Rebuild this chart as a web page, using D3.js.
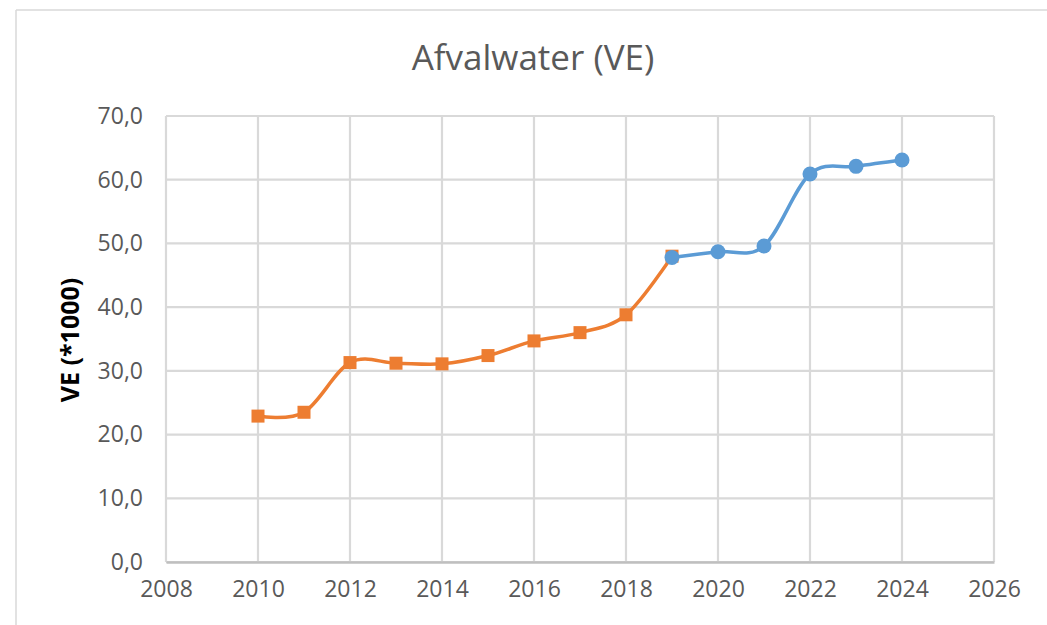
<!DOCTYPE html>
<html>
<head>
<meta charset="utf-8">
<script src="https://cdn.jsdelivr.net/npm/d3@7"></script>
<style>
  body { margin: 0; background: #fff; }
  svg { display: block; font-family: "Open Sans", sans-serif; }
</style>
</head>
<body>
<svg width="1047" height="625"></svg>
<script>
// data
var orangeYears = [2010, 2011, 2012, 2013, 2014, 2015, 2016, 2017, 2018, 2019];
var orangeValues = [22.9, 23.5, 31.3, 31.2, 31.1, 32.4, 34.7, 36.0, 38.8, 48.0];
var blueYears = [2019, 2020, 2021, 2022, 2023, 2024];
var blueValues = [47.8, 48.7, 49.6, 60.9, 62.1, 63.1];
var xTicks = [2008, 2010, 2012, 2014, 2016, 2018, 2020, 2022, 2024, 2026];
var yTicks = [0, 10, 20, 30, 40, 50, 60, 70];

var svg = d3.select("svg");

// chart border (top + left visible)
svg.append("line").attr("x1", 16).attr("y1", 10).attr("x2", 1047).attr("y2", 10)
  .style("stroke", "#d9d9d9").style("stroke-width", 1.5);
svg.append("line").attr("x1", 16).attr("y1", 10).attr("x2", 16).attr("y2", 625)
  .style("stroke", "#d9d9d9").style("stroke-width", 1.5);

var x = d3.scaleLinear().domain([2008, 2026]).range([166, 994]);
var y = d3.scaleLinear().domain([0, 70]).range([562, 116]);

// grid
var grid = svg.append("g").attr("id", "grid");
grid.selectAll("line.h").data(yTicks).enter()
  .append("line").attr("class", "h")
  .attr("x1", 166).attr("x2", 994)
  .attr("y1", function(d) { return y(d); })
  .attr("y2", function(d) { return y(d); })
  .style("stroke", "#d9d9d9").style("stroke-width", 2.2);
grid.selectAll("line.v").data(xTicks).enter()
  .append("line").attr("class", "v")
  .attr("y1", 116).attr("y2", 562)
  .attr("x1", function(d) { return x(d); })
  .attr("x2", function(d) { return x(d); })
  .style("stroke", "#d9d9d9").style("stroke-width", 2.2);

// axes
var xAxis = svg.append("g").attr("transform", "translate(0,562)")
  .call(d3.axisBottom(x).tickValues(xTicks).tickFormat(d3.format("d")).tickSize(0).tickPadding(19));
xAxis.select(".domain").style("stroke", "#bfbfbf").style("stroke-width", 2.5);

var yAxis = svg.append("g").attr("transform", "translate(166,0)")
  .call(d3.axisLeft(y).tickValues(yTicks)
    .tickFormat(function(d) { return d3.format(".1f")(d).replace(".", ","); })
    .tickSize(0).tickPadding(23));
yAxis.select(".domain").remove();

svg.selectAll(".tick text")
  .style("font-family", "'Open Sans', sans-serif")
  .style("font-size", "23px")
  .style("fill", "#595959");

// title
svg.append("text").attr("x", 533).attr("y", 70)
  .style("text-anchor", "middle")
  .style("font-size", "35px")
  .style("fill", "#595959")
  .text("Afvalwater (VE)");

// y axis title
svg.append("text")
  .attr("transform", "translate(79,340) rotate(-90)")
  .style("text-anchor", "middle")
  .style("font-size", "25px")
  .style("font-weight", "bold")
  .style("fill", "#000")
  .text("VE (*1000)");

var line = d3.line()
  .x(function(d) { return x(d[0]); })
  .y(function(d) { return y(d[1]); })
  .curve(d3.curveCardinal.tension(0));

var orangeData = d3.zip(orangeYears, orangeValues);
var blueData = d3.zip(blueYears, blueValues);

// orange series
svg.append("path").datum(orangeData)
  .attr("d", line)
  .style("fill", "none").style("stroke", "#ED7D31").style("stroke-width", 3.5);
svg.append("g").selectAll("rect").data(orangeData).enter()
  .append("rect")
  .attr("x", function(d) { return x(d[0]) - 6.5; })
  .attr("y", function(d) { return y(d[1]) - 6.5; })
  .attr("width", 13).attr("height", 13)
  .style("fill", "#ED7D31");

// blue series
svg.append("path").datum(blueData)
  .attr("d", line)
  .style("fill", "none").style("stroke", "#5B9BD5").style("stroke-width", 3.5);
svg.append("g").selectAll("circle").data(blueData).enter()
  .append("circle")
  .attr("cx", function(d) { return x(d[0]); })
  .attr("cy", function(d) { return y(d[1]); })
  .attr("r", 7.5)
  .style("fill", "#5B9BD5");
</script>
</body>
</html>
